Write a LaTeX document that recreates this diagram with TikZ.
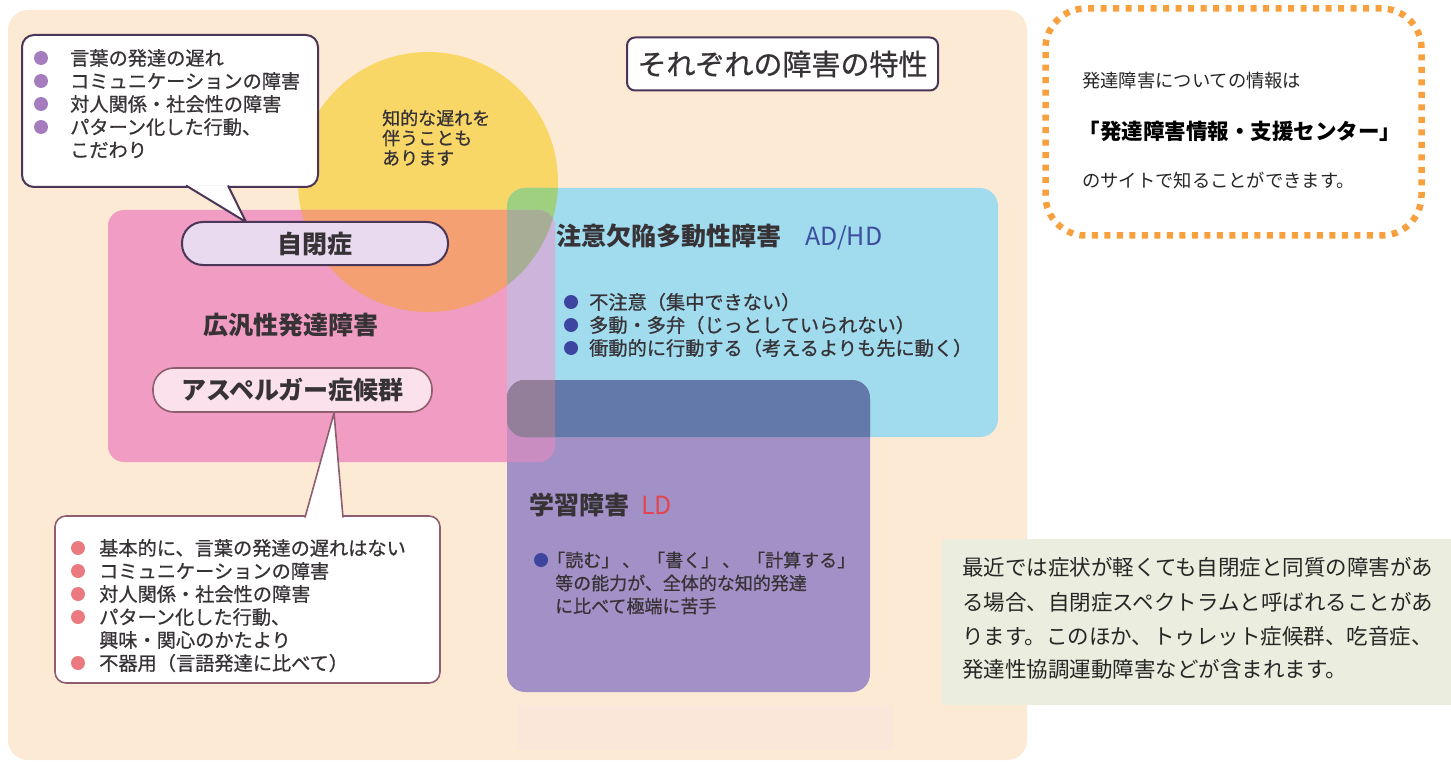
\documentclass[tikz,border=0pt]{standalone}
\usepackage{fontspec}
\setmainfont{Noto Sans CJK JP}
\newfontfamily\medfont[FakeBold=0.7]{Noto Sans CJK JP}
\definecolor{bgpeach}{HTML}{FDEAD4}
\definecolor{cyellow}{HTML}{F9D767}
\definecolor{cpink}{HTML}{F09CC3}
\definecolor{corange}{HTML}{F5A072}
\definecolor{cblue}{HTML}{A1DBEE}
\definecolor{cgreen}{HTML}{9FD07F}
\definecolor{cgray}{HTML}{A8AD95}
\definecolor{clav}{HTML}{CDB4DA}
\definecolor{cpurple}{HTML}{A291C6}
\definecolor{cdblue}{HTML}{6379A9}
\definecolor{cmauve}{HTML}{947F9A}
\definecolor{cpinkpur}{HTML}{C98DC1}
\definecolor{bdark}{HTML}{4B3658}
\definecolor{bmauve}{HTML}{8E5E6E}
\definecolor{txtc}{HTML}{363236}
\definecolor{bulpur}{HTML}{A57DBF}
\definecolor{bulred}{HTML}{EB7A80}
\definecolor{bulblue}{HTML}{3D45A0}
\definecolor{adhdc}{HTML}{3B4F9E}
\definecolor{ldred}{HTML}{E2464F}
\definecolor{dashor}{HTML}{F8A03E}
\definecolor{sage}{HTML}{EBEEDE}
\definecolor{faint}{HTML}{FBE6DA}
\definecolor{autfill}{HTML}{E9DAEF}
\definecolor{aspfill}{HTML}{FBE1EB}
\tikzset{
  txt/.style={inner sep=0pt, anchor=west, text=txtc},
  small/.style={font=\medfont\fontsize{19.2}{23}\selectfont},
  ldtext/.style={font=\medfont\fontsize{18}{22}\selectfont},
  ytext/.style={font=\medfont\fontsize{18}{20}\selectfont},
  head/.style={font=\bfseries\fontsize{25}{28}\selectfont},
  dotb/.style={circle, inner sep=0pt, minimum size=14pt},
  pill/.style={draw, rounded corners=21pt, line width=2pt, inner sep=0pt, text=txtc},
  infotext/.style={txt, font=\fontsize{18.3}{22}\selectfont, text=black!85},
  notetext/.style={txt, font=\fontsize{21.5}{25}\selectfont, text=black!85},
}
\begin{document}
\begin{tikzpicture}[x=1pt,y=-1pt]
\useasboundingbox (0,0) rectangle (1451,762);
\fill[white] (0,0) rectangle (1451,762);
% peach panel
\fill[bgpeach, rounded corners=20] (8,10) rectangle (1027,760);
\fill[faint] (517,705) rectangle (893,750);
% yellow circle
\fill[cyellow] (428,182) circle [radius=130];
% pink rect
\fill[cpink, rounded corners=16] (108,210) rectangle (555,462);
\begin{scope}
  \clip (428,182) circle [radius=130];
  \fill[corange, rounded corners=16] (108,210) rectangle (555,462);
\end{scope}
% blue rect
\fill[cblue, rounded corners=18] (507,188) rectangle (998,437);
\begin{scope}
  \clip[rounded corners=18] (507,188) rectangle (998,437);
  \fill[cgreen] (428,182) circle [radius=130];
  \fill[clav, rounded corners=16] (108,210) rectangle (555,462);
  \clip[rounded corners=16] (108,210) rectangle (555,462);
  \fill[cgray] (428,182) circle [radius=130];
\end{scope}
% LD rect
\fill[cpurple, rounded corners=18] (507,380) rectangle (870,692);
\begin{scope}
  \clip[rounded corners=18] (507,380) rectangle (870,692);
  \fill[cpinkpur, rounded corners=16] (108,210) rectangle (555,462);
  \fill[cdblue, rounded corners=18] (507,188) rectangle (998,437);
  \clip[rounded corners=16] (108,210) rectangle (555,462);
  \fill[cmauve, rounded corners=18] (507,188) rectangle (998,437);
\end{scope}

% title
\node[draw=bdark, line width=2pt, fill=white, rounded corners=8, minimum width=311pt, minimum height=53pt, inner sep=0pt, text=txtc, font=\medfont\fontsize{29}{32}\selectfont] (title) at (782.5,64) {それぞれの障害の特性};

% callout 1
\node[draw=bdark, line width=2pt, fill=white, rounded corners=12, minimum width=296pt, minimum height=152pt, inner sep=0pt] (cb1) at (170,111) {};
\coordinate (t1a) at (186,185.5);
\coordinate (t1b) at (228,185.5);
\coordinate (t1tip) at (246,222);
\fill[white] (t1a) -- (t1tip) -- (t1b) -- cycle;
\draw[bdark, line width=2pt, line join=round] (t1a) -- (t1tip) -- (t1b);
\foreach \y/\n in {58/1,81/2,104/3,127/4} \node[dotb, fill=bulpur] (pb\n) at (41,\y) {};
\node[txt, small] (c1l1) at (70,58) {言葉の発達の遅れ};
\node[txt, small] (c1l2) at (70,81) {コミュニケーションの障害};
\node[txt, small] (c1l3) at (70,104) {対人関係・社会性の障害};
\node[txt, small] (c1l4) at (70,127) {パターン化した行動、};
\node[txt, small] (c1l5) at (70,150) {こだわり};

% yellow text
\node[txt, ytext] (y1) at (382,118) {知的な遅れを};
\node[txt, ytext] (y2) at (382,138) {伴うことも};
\node[txt, ytext] (y3) at (382,158) {あります};

% autism pill
\node[pill, draw=bdark, fill=autfill, minimum width=266pt, minimum height=43pt, head] (aut) at (315,243.5) {自閉症};
% PDD label
\node[inner sep=0pt, text=txtc, head] (pdd) at (291,325) {広汎性発達障害};
% asperger pill
\node[pill, draw=bmauve, line width=1.6pt, fill=aspfill, minimum width=279pt, minimum height=44pt, head] (asp) at (292.5,390) {アスペルガー症候群};

% callout 2
\node[draw=bmauve, line width=1.6pt, fill=white, rounded corners=11, minimum width=385pt, minimum height=167pt, inner sep=0pt] (cb2) at (247.5,599.5) {};
\coordinate (t2a) at (305,517.5);
\coordinate (t2b) at (343,517.5);
\coordinate (t2tip) at (334,413);
\fill[white] (t2a) -- (t2tip) -- (t2b) -- cycle;
\draw[bmauve, line width=1.6pt, line join=round] (t2a) -- (t2tip) -- (t2b);
\foreach \y/\n in {548/1,571/2,594/3,617/4,663/5} \node[dotb, fill=bulred] (rb\n) at (78,\y) {};
\node[txt, small] (c2l1) at (99,548) {基本的に、言葉の発達の遅れはない};
\node[txt, small] (c2l2) at (99,571) {コミュニケーションの障害};
\node[txt, small] (c2l3) at (99,594) {対人関係・社会性の障害};
\node[txt, small] (c2l4) at (99,617) {パターン化した行動、};
\node[txt, small] (c2l5) at (99,640) {興味・関心のかたより};
\node[txt, small] (c2l6) at (99,663) {不器用（言語発達に比べて）};

% ADHD
\node[inner sep=0pt, anchor=base west, text=txtc, head] (adhdh) at (556,245) {注意欠陥多動性障害};
\node[inner sep=0pt, anchor=base west, text=adhdc, font=\fontsize{25}{28}\selectfont] (adhdl) at (805,245) {AD/HD};
\foreach \y/\n in {302/1,325/2,348/3} \node[dotb, fill=bulblue] (ab\n) at (571,\y) {};
\node[txt, small] (a1) at (589,302) {不注意（集中できない）};
\node[txt, small] (a2) at (589,325) {多動・多弁（じっとしていられない）};
\node[txt, small] (a3) at (589,348) {衝動的に行動する（考えるよりも先に動く）};

% LD
\node[inner sep=0pt, anchor=base west, text=txtc, head] (ldh) at (529,514) {学習障害};
\node[inner sep=0pt, anchor=base west, text=ldred, font=\fontsize{25}{28}\selectfont] (ldl) at (641,514) {LD};
\node[dotb, fill=bulblue] (lb1) at (541,560) {};
\node[txt, ldtext] (l1) at (547,560) {「読む」\kern3pt、\kern7pt「書く」\kern3pt、\kern7pt「計算する」};
\node[txt, ldtext] (l2) at (555,583) {等の能力が、全体的な知的発達};
\node[txt, ldtext] (l3) at (555,606) {に比べて極端に苦手};

% info dashed box
\node[draw=dashor, line width=6.5pt, dash pattern=on 6pt off 6.5pt, rounded corners=40, minimum width=376pt, minimum height=227pt, inner sep=0pt] (info) at (1233.5,122) {};
\node[infotext] (i1) at (1082,81) {発達障害についての情報は};
\node[inner sep=0pt, text=black, font=\bfseries\fontsize{21.5}{24}\selectfont] (i2) at (1240,131) {「発達障害情報・支援センター」};
\node[infotext] (i3) at (1082,180) {のサイトで知ることができます。};

% note box
\fill[sage] (942,539) rectangle (1451,705);
\node[notetext] (n1) at (962,567) {最近では症状が軽くても自閉症と同質の障害があ};
\node[notetext] (n2) at (962,602) {る場合、自閉症スペクトラムと呼ばれることがあ};
\node[notetext] (n3) at (962,636) {ります。このほか、トゥレット症候群、吃音症、};
\node[notetext] (n4) at (962,669) {発達性協調運動障害などが含まれます。};
\end{tikzpicture}
\end{document}
